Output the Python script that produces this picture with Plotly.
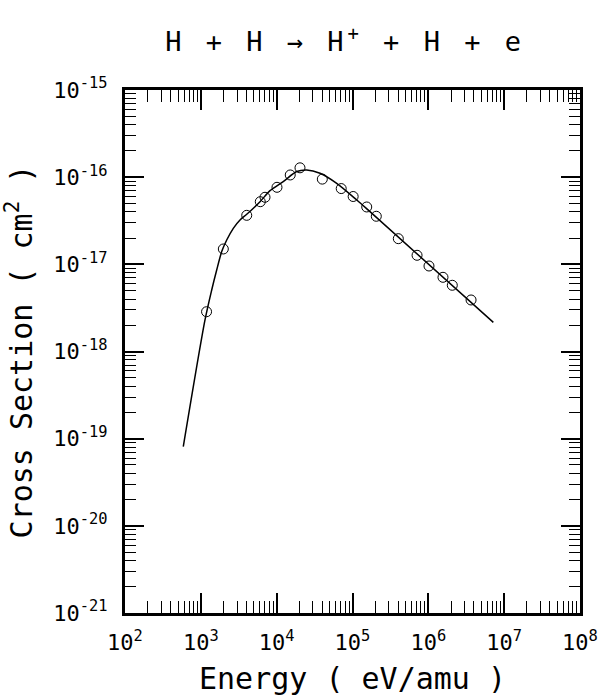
import plotly.graph_objects as go

# Measured data points (open circles)
energy_pts = [1.19e3, 1.98e3, 4.03e3, 6.08e3, 7.02e3, 1.01e4, 1.51e4, 2.03e4, 4.0e4,
              7.1e4, 1.02e5, 1.54e5, 2.06e5, 4.02e5, 7.1e5, 1.02e6, 1.56e6, 2.07e6, 3.66e6]
sigma_pts = [2.86e-18, 1.50e-17, 3.65e-17, 5.23e-17, 5.88e-17, 7.65e-17, 1.06e-16, 1.28e-16, 9.5e-17,
             7.4e-17, 6.0e-17, 4.55e-17, 3.56e-17, 1.97e-17, 1.27e-17, 9.57e-18, 7.1e-18, 5.75e-18, 3.9e-18]

# Fitted curve
energy_fit = [5.87e2, 1.135e3, 1.391e3, 1.619e3, 1.885e3, 2.194e3, 2.68e3, 3.286e3, 4.03e3, 6.03e3,
              8.17e3, 1.22e4, 1.84e4, 2.49e4, 3.73e4, 6.19e4, 1.14e5, 1.70e5, 7.2e6]
sigma_fit = [8.1e-20, 2.30e-18, 5.08e-18, 8.61e-18, 1.40e-17, 1.90e-17, 2.59e-17, 3.23e-17, 3.75e-17, 5.23e-17,
             7.0e-17, 8.9e-17, 1.16e-16, 1.21e-16, 1.11e-16, 8.5e-17, 5.47e-17, 4.02e-17, 2.16e-18]

x_tickvals = [1e2, 1e3, 1e4, 1e5, 1e6, 1e7, 1e8]
x_ticktext = ["10<sup>2</sup>", "10<sup>3</sup>", "10<sup>4</sup>", "10<sup>5</sup>",
              "10<sup>6</sup>", "10<sup>7</sup>", "10<sup>8</sup>"]
y_tickvals = [1e-21, 1e-20, 1e-19, 1e-18, 1e-17, 1e-16, 1e-15]
y_ticktext = ["10<sup>-21</sup>", "10<sup>-20</sup>", "10<sup>-19</sup>", "10<sup>-18</sup>",
              "10<sup>-17</sup>", "10<sup>-16</sup>", "10<sup>-15</sup>"]

FONT = "DejaVu Sans Mono"

fig = go.Figure()
fig.add_trace(go.Scatter(x=energy_fit, y=sigma_fit, mode="lines",
                         line=dict(color="black", width=1.5, shape="spline", smoothing=0.8),
                         showlegend=False, hoverinfo="skip"))
fig.add_trace(go.Scatter(x=energy_pts, y=sigma_pts, mode="markers",
                         marker=dict(symbol="circle-open", size=10, color="black",
                                     line=dict(width=1, color="black")),
                         showlegend=False))

axis_common = dict(
    type="log", showline=True, linewidth=3, linecolor="black", mirror="allticks",
    ticks="inside", tickwidth=1.5, tickcolor="black", showgrid=False, zeroline=False,
    tickfont=dict(family=FONT, size=22, color="black"), automargin=False,
)

fig.update_xaxes(**axis_common, range=[2, 8], tickvals=x_tickvals, ticktext=x_ticktext, ticklen=20,
                 ticklabelstandoff=8,
                 minor=dict(ticks="inside", ticklen=12, tickwidth=1.2, tickcolor="black", dtick="D1", showgrid=False),
                 title=dict(text='Energy ( eV/amu )',
                            font=dict(family=FONT, size=30, color="black"), standoff=14))
fig.update_yaxes(**axis_common, range=[-21, -15], tickvals=y_tickvals, ticktext=y_ticktext, ticklen=19,
                 ticklabelstandoff=10,
                 minor=dict(ticks="inside", ticklen=11, tickwidth=1.2, tickcolor="black", dtick="D1", showgrid=False),
                 title=dict(text='Cross Section ( cm<sup>2</sup> )',
                            font=dict(family=FONT, size=30, color="black"), standoff=14))

fig.update_layout(
    width=598, height=696,
    margin=dict(l=125, r=18, t=90, b=83),
    paper_bgcolor="white", plot_bgcolor="white",
    title=dict(text='<span style="letter-spacing:4px">H + H → H<sup>+</sup> + H + e</span>',
               font=dict(family=FONT, size=27, color="black"),
               x=0.577, xanchor="center", y=0.94, yanchor="middle"),
)

fig.write_html("out.html", config={"displayModeBar": False},
               post_script="document.body.style.margin='0';")
